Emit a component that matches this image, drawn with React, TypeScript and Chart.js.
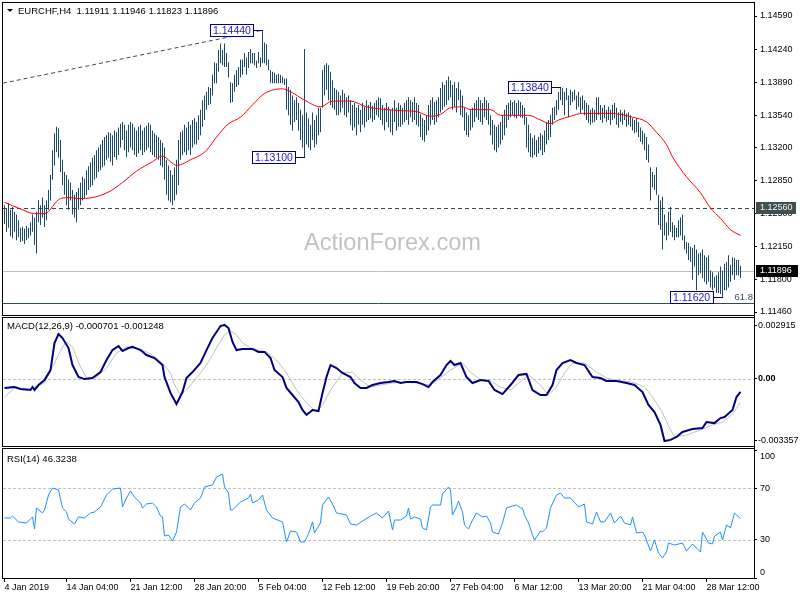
import React, { useEffect, useRef } from "react";
import { Chart, registerables } from "chart.js";

Chart.register(...registerables);

// ---------------- text ----------------
const symbolTitle = "EURCHF,H4  1.11911 1.11946 1.11823 1.11896";
const macdTitle = "MACD(12,26,9) -0.000701 -0.001248";
const rsiTitle = "RSI(14) 46.3238";
const watermark = "ActionForex.com";

// ---------------- H4 bars (high / low) ----------------
const barHigh = [
  1.1259, 1.1256, 1.1261, 1.1254, 1.1257, 1.1252, 1.1249, 1.1243, 1.1235, 1.1236,
  1.1234, 1.1237, 1.1235, 1.1241, 1.1249, 1.1246, 1.1252, 1.1264, 1.1259, 1.1267,
  1.1259, 1.1264, 1.1275, 1.1291, 1.1317, 1.1335, 1.1342, 1.134, 1.1328, 1.1307,
  1.1294, 1.1291, 1.1286, 1.1283, 1.1275, 1.127, 1.1273, 1.1277, 1.1283, 1.1289,
  1.1287, 1.1296, 1.13, 1.1304, 1.1309, 1.1312, 1.1317, 1.132, 1.1323, 1.1328,
  1.1331, 1.1333, 1.1336, 1.1335, 1.1333, 1.1338, 1.1336, 1.1341, 1.1345, 1.1347,
  1.1344, 1.1338, 1.1344, 1.1347, 1.1345, 1.1341, 1.1338, 1.1342, 1.1344, 1.1338,
  1.1341, 1.1343, 1.1346, 1.1344, 1.1338, 1.1335, 1.1333, 1.1331, 1.1328, 1.1325,
  1.132, 1.1307, 1.1301, 1.1296, 1.1291, 1.1299, 1.1307, 1.1328, 1.1336, 1.1338,
  1.1344, 1.1341, 1.1347, 1.1344, 1.1349, 1.1351, 1.1347, 1.1354, 1.136, 1.137,
  1.1375, 1.1379, 1.1384, 1.1383, 1.1397, 1.141, 1.1409, 1.1423, 1.143, 1.1423,
  1.143, 1.142, 1.141, 1.1389, 1.1388, 1.1397, 1.1402, 1.1405, 1.1413, 1.1413,
  1.142, 1.1415, 1.1421, 1.1424, 1.142, 1.142, 1.1412, 1.1421, 1.1415, 1.1444,
  1.1431, 1.1429, 1.1413, 1.1402, 1.14, 1.1399, 1.1397, 1.1398, 1.1397, 1.1395,
  1.1393, 1.1393, 1.1384, 1.1381, 1.1375, 1.137, 1.1373, 1.1367, 1.136, 1.1354,
  1.1424, 1.1357, 1.1351, 1.1344, 1.1357, 1.1349, 1.1354, 1.1362, 1.1362, 1.1402,
  1.1407, 1.1409, 1.1407, 1.14, 1.1391, 1.1383, 1.1381, 1.1379, 1.1375, 1.1381,
  1.1377, 1.1373, 1.1375, 1.137, 1.1365, 1.1367, 1.1362, 1.1365, 1.136, 1.1367,
  1.1363, 1.137, 1.1365, 1.1368, 1.1364, 1.1367, 1.137, 1.1373, 1.1372, 1.1365,
  1.1362, 1.1367, 1.1363, 1.136, 1.1362, 1.137, 1.1362, 1.1367, 1.1365, 1.1362,
  1.1367, 1.137, 1.1373, 1.137, 1.1368, 1.1373, 1.1367, 1.1365, 1.1355, 1.1351,
  1.1349, 1.1354, 1.1365, 1.137, 1.1373, 1.1368, 1.137, 1.1373, 1.1383, 1.1389,
  1.1386, 1.1391, 1.1395, 1.1391, 1.1386, 1.1389, 1.1383, 1.1389, 1.1381, 1.1375,
  1.1362, 1.1357, 1.1354, 1.136, 1.1362, 1.1367, 1.137, 1.1373, 1.137, 1.1367,
  1.1373, 1.137, 1.1367, 1.1354, 1.1349, 1.1344, 1.1342, 1.1344, 1.1347, 1.1354,
  1.136, 1.1365, 1.1367, 1.137, 1.1368, 1.137, 1.1367, 1.137, 1.1368, 1.1365,
  1.1362, 1.1352, 1.1344, 1.1335, 1.133, 1.1333, 1.1328, 1.1331, 1.1335, 1.1333,
  1.1338, 1.1347, 1.1349, 1.1354, 1.1362, 1.1363, 1.137, 1.1379, 1.1384, 1.1383,
  1.1379, 1.1383, 1.1375, 1.1381, 1.1379, 1.1381, 1.1375, 1.1379, 1.1373, 1.1375,
  1.137, 1.1367, 1.1365, 1.136, 1.1362, 1.136, 1.1373, 1.1373, 1.1365, 1.1362,
  1.1365, 1.136, 1.1363, 1.136, 1.1365, 1.1367, 1.1362, 1.1357, 1.136, 1.1357,
  1.136, 1.1356, 1.1357, 1.1354, 1.1351, 1.1349, 1.1351, 1.1347, 1.1341, 1.1338,
  1.1335, 1.1331, 1.1323, 1.1299, 1.1294, 1.1291, 1.1299, 1.127, 1.1264, 1.1268,
  1.1249, 1.1241, 1.1252, 1.1257, 1.1241, 1.1238, 1.1235, 1.1243, 1.1246, 1.1249,
  1.1227, 1.122, 1.1219, 1.1215, 1.1214, 1.1217, 1.1212, 1.1208, 1.1209, 1.1212,
  1.1206, 1.1204, 1.1206, 1.119, 1.1188, 1.1183, 1.1185, 1.1188, 1.1194, 1.119,
  1.1197, 1.1199, 1.1206, 1.1196, 1.1204, 1.1203, 1.1201, 1.1201, 1.1195,
];
const barLow = [
  1.1239, 1.1231, 1.1235, 1.1226, 1.1224, 1.1231, 1.1222, 1.1225, 1.122, 1.1221,
  1.1218, 1.1222, 1.1224, 1.1227, 1.1231, 1.1217, 1.1208, 1.1241, 1.1238, 1.1246,
  1.1236, 1.1243, 1.1254, 1.1264, 1.1286, 1.1301, 1.1315, 1.1309, 1.1294, 1.128,
  1.127, 1.1259, 1.1254, 1.1264, 1.1249, 1.1246, 1.1241, 1.1254, 1.1259, 1.1264,
  1.1266, 1.127, 1.1275, 1.1278, 1.128, 1.1286, 1.1288, 1.1294, 1.1296, 1.1299,
  1.1301, 1.1307, 1.1309, 1.1305, 1.1301, 1.131, 1.1307, 1.1312, 1.132, 1.1328,
  1.1317, 1.131, 1.1315, 1.132, 1.1317, 1.1312, 1.131, 1.1314, 1.1317, 1.1312,
  1.1315, 1.1317, 1.132, 1.1315, 1.1312, 1.131, 1.1309, 1.1307, 1.1301, 1.1299,
  1.1286, 1.127, 1.1264, 1.1262, 1.1259, 1.1264, 1.127, 1.128, 1.1307, 1.1312,
  1.1315, 1.1312, 1.1317, 1.1312, 1.132, 1.1323, 1.1323, 1.1328, 1.1333, 1.1342,
  1.1349, 1.136, 1.1365, 1.1366, 1.1375, 1.1388, 1.1388, 1.14, 1.1409, 1.1407,
  1.1405, 1.1405, 1.1394, 1.1367, 1.1368, 1.1379, 1.1384, 1.1386, 1.1394, 1.1397,
  1.1405, 1.1397, 1.1404, 1.1409, 1.1409, 1.1407, 1.1404, 1.1409, 1.1405, 1.1409,
  1.1409, 1.1407, 1.1402, 1.1388, 1.1388, 1.1388, 1.1388, 1.1388, 1.1388, 1.1388,
  1.1386, 1.136, 1.1354, 1.1344, 1.1338, 1.1347, 1.1349, 1.1338, 1.1328, 1.132,
  1.131, 1.1323, 1.132, 1.1317, 1.1328, 1.132, 1.1323, 1.1333, 1.1336, 1.1362,
  1.1375, 1.1381, 1.137, 1.1365, 1.1362, 1.136, 1.1354, 1.1354, 1.1357, 1.1362,
  1.1354, 1.1352, 1.1357, 1.1344, 1.1338, 1.1341, 1.1333, 1.1344, 1.1336, 1.1344,
  1.1341, 1.1347, 1.1349, 1.1351, 1.1347, 1.1349, 1.1354, 1.1352, 1.1349, 1.1344,
  1.1338, 1.1347, 1.1341, 1.1336, 1.1333, 1.1347, 1.1338, 1.1342, 1.1342, 1.1344,
  1.1347, 1.1349, 1.1344, 1.1352, 1.1347, 1.1349, 1.1344, 1.1342, 1.1331, 1.1328,
  1.1326, 1.1333, 1.1338, 1.1344, 1.1349, 1.1344, 1.1347, 1.1352, 1.1357, 1.136,
  1.1363, 1.1365, 1.137, 1.1373, 1.136, 1.1363, 1.1357, 1.137, 1.1354, 1.1352,
  1.1338, 1.1333, 1.1331, 1.1338, 1.1341, 1.1347, 1.1352, 1.1349, 1.1347, 1.1344,
  1.1352, 1.1349, 1.1344, 1.1333, 1.1323, 1.1317, 1.1315, 1.132, 1.1323, 1.1328,
  1.1333, 1.1341, 1.1349, 1.1352, 1.1354, 1.1352, 1.1351, 1.1354, 1.1352, 1.1351,
  1.1344, 1.132, 1.1315, 1.131, 1.1309, 1.1312, 1.131, 1.1314, 1.1317, 1.1312,
  1.1315, 1.1323, 1.1328, 1.1331, 1.1344, 1.1349, 1.1354, 1.136, 1.137, 1.1365,
  1.1354, 1.137, 1.1352, 1.1365, 1.1368, 1.137, 1.136, 1.1363, 1.1356, 1.136,
  1.1354, 1.1349, 1.1346, 1.1344, 1.1346, 1.1347, 1.1349, 1.1354, 1.1349, 1.1346,
  1.1351, 1.1347, 1.1349, 1.1344, 1.1349, 1.1351, 1.1344, 1.1341, 1.1347, 1.1344,
  1.1349, 1.1342, 1.1344, 1.1342, 1.1338, 1.1335, 1.1336, 1.1331, 1.1326, 1.1323,
  1.1317, 1.1307, 1.1304, 1.1264, 1.1278, 1.1275, 1.127, 1.1238, 1.1233, 1.1212,
  1.1227, 1.1222, 1.1227, 1.1231, 1.1225, 1.1222, 1.1225, 1.1225, 1.1227, 1.1222,
  1.1212, 1.1208, 1.1201, 1.1199, 1.118, 1.1194, 1.1169, 1.1185, 1.1187, 1.1182,
  1.1178, 1.1175, 1.1178, 1.1172, 1.1169, 1.1172, 1.1166, 1.1166, 1.1165, 1.1162,
  1.1169, 1.1169, 1.1172, 1.1178, 1.1185, 1.118, 1.1185, 1.1185, 1.1182,
];

// moving average (red) [bar, price]
const maLine = [
  [0, 1.1262], [8, 1.1255], [15, 1.125], [20, 1.125], [28, 1.1266], [33, 1.1267], [37, 1.1266],
  [44, 1.1267], [53, 1.1274], [59, 1.1283], [66, 1.1295], [74, 1.1305], [79, 1.1311], [83, 1.1305],
  [86, 1.1301], [94, 1.1308], [98, 1.1312], [101, 1.1317], [106, 1.1331], [112, 1.1345], [118, 1.1352],
  [124, 1.1365], [130, 1.1377], [139, 1.1382], [143, 1.1379], [150, 1.137], [158, 1.1363], [164, 1.1369],
  [173, 1.1369], [181, 1.1363], [198, 1.1359], [206, 1.1358], [213, 1.1353], [218, 1.1355], [223, 1.1362],
  [229, 1.1363], [233, 1.136], [243, 1.136], [248, 1.1354], [254, 1.1354], [262, 1.1354], [268, 1.1349],
  [273, 1.1345], [277, 1.1349], [283, 1.1353], [289, 1.1356], [298, 1.1356], [308, 1.1355], [314, 1.1352],
  [321, 1.1347], [326, 1.1336], [331, 1.1323], [334, 1.131], [341, 1.1289], [348, 1.1272], [353, 1.1256],
  [358, 1.1245], [363, 1.1233], [368, 1.1227],
];

// chart objects
const trendLine = [[-0.75, 1.1388], [129, 1.1444]];
const resistanceLevel = 1.1256;
const resistanceText = "1.12560";
const lastClose = 1.11896;
const lastCloseText = "1.11896";
const fibLevel = 1.11555;
const fibText = "61.8";
const markIdx = [129, 150, 278, 359];
const markPrice = [1.1444, 1.131, 1.1384, 1.1162];
const markText = ["1.14440", "1.13100", "1.13840", "1.11620"];
const priceTicks = [1.1459, 1.1424, 1.1389, 1.1354, 1.132, 1.1285, 1.125, 1.1215, 1.118, 1.1146];

// MACD(12,26,9) [bar, value]
const macdLine = [
  [0, -0.00049], [5, -0.00044], [8, -0.00055], [13, -0.0006], [14, -0.00044], [15, -0.0006], [17, -0.00033],
  [20, -0.00006], [23, 0.00048], [25, 0.00194], [27, 0.00243], [29, 0.00221], [32, 0.00167], [34, 0.00075],
  [37, 0.0001], [40, -0.00001], [44, 0.00005], [48, 0.00037], [51, 0.00102], [54, 0.00156], [57, 0.00178],
  [59, 0.00151], [62, 0.00167], [64, 0.00173], [68, 0.00156], [71, 0.00129], [75, 0.00113], [79, 0.00075],
  [80, 0.0001], [83, -0.00076], [86, -0.00136], [89, -0.00071], [91, 0.00005], [94, 0.00037], [98, 0.00086],
  [101, 0.00156], [104, 0.00221], [108, 0.00286], [110, 0.00292], [112, 0.00275], [114, 0.002], [116, 0.00156],
  [119, 0.00162], [124, 0.00162], [127, 0.00146], [130, 0.00146], [133, 0.00113], [135, 0.00048], [139, 0.0001],
  [141, -0.00049], [144, -0.00087], [147, -0.00125], [149, -0.00168], [151, -0.00195], [154, -0.00168],
  [157, -0.00174], [159, -0.00076], [161, 0.0001], [163, 0.00075], [166, 0.00059], [169, 0.00032], [173, 0.0001],
  [175, -0.00022], [178, -0.00049], [181, -0.00049], [184, -0.00033], [188, -0.00022], [192, -0.00017],
  [195, -0.00011], [198, -0.00022], [201, -0.00017], [206, -0.00017], [209, -0.00028], [212, -0.00044],
  [214, -0.00017], [218, 0.00021], [221, 0.00075], [223, 0.00097], [225, 0.00075], [228, 0.00086], [231, 0.0001],
  [234, -0.00022], [238, -0.00006], [242, -0.00011], [245, -0.0006], [249, -0.00082], [253, -0.00033],
  [257, 0.00021], [261, 0.00027], [264, -0.0006], [268, -0.00087], [271, -0.00087], [274, -0.00033],
  [276, 0.00048], [279, 0.00086], [283, 0.00102], [286, 0.00086], [290, 0.00075], [294, 0.0001], [298, 0.00005],
  [301, -0.00011], [306, -0.00011], [311, -0.00022], [315, -0.00033], [319, -0.00071], [322, -0.00141],
  [325, -0.00179], [328, -0.00249], [330, -0.00336], [333, -0.0033], [336, -0.00314], [339, -0.00287],
  [344, -0.00271], [349, -0.00266], [351, -0.00233], [355, -0.00239], [358, -0.00212], [360, -0.00206],
  [364, -0.00168], [366, -0.00098], [368, -0.000701],
];
const signalLine = [
  [0, -0.00098], [5, -0.00049], [13, -0.00055], [20, -0.00022], [25, 0.00086], [29, 0.00173], [31, 0.002],
  [34, 0.00173], [38, 0.00064], [41, 0.00005], [46, 0.0001], [51, 0.00059], [56, 0.0014], [61, 0.00173],
  [68, 0.00162], [74, 0.00129], [79, 0.00086], [83, 0.00032], [85, -0.00033], [88, -0.00087], [91, -0.0006],
  [96, 0.00005], [101, 0.00075], [106, 0.00167], [110, 0.00238], [113, 0.00259], [116, 0.00238], [119, 0.00194],
  [124, 0.00162], [131, 0.00146], [136, 0.00102], [141, 0.00032], [146, -0.0006], [151, -0.0013], [156, -0.00179],
  [159, -0.00141], [164, -0.00044], [169, 0.00032], [174, 0.00037], [178, -0.00006], [183, -0.00044],
  [188, -0.00033], [194, -0.00022], [198, -0.00017], [206, -0.00022], [213, -0.00033], [218, 0.00005],
  [223, 0.00048], [229, 0.00086], [233, 0.00037], [238, -0.00006], [243, -0.00011], [248, -0.00044],
  [253, -0.0006], [259, -0.00006], [262, 0.00021], [268, -0.00033], [272, -0.00087], [276, -0.00044],
  [280, 0.00032], [284, 0.00086], [290, 0.00086], [296, 0.00037], [301, 0.00005], [308, -0.00011],
  [314, -0.00017], [320, -0.00044], [324, -0.00098], [329, -0.00184], [333, -0.00276], [335, -0.00314],
  [341, -0.00304], [348, -0.00276], [354, -0.00249], [359, -0.00233], [364, -0.0019], [368, -0.001248],
];
const macdTicks = [0.002915, 0, -0.003357];
const macdTickText = ["0.002915", "0.00", "-0.003357"];

// RSI(14) [bar, value]
const rsiLine = [
  [0, 46.9], [3, 46.9], [4, 48.4], [7, 43.8], [11, 43.0], [14, 47.7], [15, 38.3], [16, 54.7], [19, 50.8],
  [20, 53.1], [22, 64.8], [24, 70.3], [27, 68.8], [29, 54.7], [31, 51.6], [32, 46.1], [35, 42.2], [37, 47.7],
  [40, 46.9], [43, 50.8], [45, 51.6], [48, 55.5], [51, 64.8], [54, 69.5], [58, 70.3], [59, 55.5], [61, 62.5],
  [63, 68.0], [65, 63.3], [68, 58.6], [69, 54.7], [71, 57.8], [74, 58.6], [76, 55.5], [78, 48.4], [79, 47.7],
  [80, 32.8], [82, 33.6], [84, 28.9], [86, 35.9], [88, 55.5], [90, 57.8], [93, 53.1], [95, 58.6], [98, 62.5],
  [100, 71.1], [104, 72.7], [106, 78.9], [109, 81.3], [110, 71.1], [112, 66.4], [113, 53.1], [114, 53.1],
  [118, 59.4], [122, 62.5], [123, 65.6], [124, 58.6], [127, 60.9], [129, 64.8], [131, 53.1], [134, 46.9],
  [139, 43.8], [141, 28.1], [143, 36.7], [146, 35.9], [148, 28.1], [150, 28.1], [152, 34.4], [154, 43.8],
  [155, 35.2], [158, 43.0], [159, 57.0], [162, 63.3], [164, 57.8], [166, 50.8], [171, 49.2], [173, 42.2],
  [176, 41.4], [179, 44.5], [183, 48.4], [186, 50.8], [189, 46.9], [192, 52.3], [194, 37.5], [195, 45.3],
  [198, 45.3], [201, 48.4], [202, 54.7], [203, 46.1], [205, 47.7], [208, 46.1], [209, 39.1], [211, 37.5],
  [213, 55.5], [214, 57.0], [218, 57.0], [219, 65.6], [222, 71.1], [223, 68.8], [224, 49.2], [226, 55.5],
  [227, 60.2], [229, 51.6], [230, 41.4], [232, 38.3], [234, 45.3], [236, 50.8], [239, 47.7], [241, 48.4],
  [243, 43.0], [244, 35.9], [247, 34.4], [249, 43.0], [251, 54.7], [254, 56.3], [256, 57.0], [258, 54.7],
  [259, 54.7], [260, 49.2], [262, 43.0], [264, 33.6], [265, 29.7], [268, 36.7], [269, 35.9], [271, 39.1],
  [273, 54.7], [276, 64.8], [278, 66.4], [280, 62.5], [283, 62.5], [287, 55.5], [289, 57.0], [290, 57.8],
  [291, 43.8], [294, 42.2], [296, 51.6], [298, 43.8], [300, 43.8], [303, 50.8], [305, 43.0], [308, 48.4],
  [310, 43.0], [313, 41.4], [314, 47.7], [316, 35.2], [319, 35.9], [320, 33.6], [323, 21.1], [325, 29.7],
  [327, 19.5], [329, 15.6], [331, 20.3], [332, 27.3], [335, 25.8], [339, 27.3], [341, 21.1], [344, 26.6],
  [348, 20.3], [349, 35.9], [352, 27.3], [354, 26.6], [355, 32.8], [358, 35.9], [359, 29.7], [361, 41.4],
  [363, 39.1], [365, 50.8], [368, 46.3238],
];
const rsiTicks = [100, 70, 30, 0];
const rsiLevels = [70, 30];

// time axis
const timeTickIdx = [0, 31, 63, 95, 127, 159, 191, 223, 255, 287, 319, 351];
const timeTickText = [
  "4 Jan 2019", "14 Jan 04:00", "21 Jan 12:00", "28 Jan 20:00", "5 Feb 04:00", "12 Feb 12:00",
  "19 Feb 20:00", "27 Feb 04:00", "6 Mar 12:00", "13 Mar 20:00", "21 Mar 04:00", "28 Mar 12:00",
];

// ---------------- styling / layout ----------------
const FONT = "'Liberation Sans', Arial, sans-serif";
const FS = 9.5; // titles
const AS = 9; // axis labels
const BAR_COLOR = "#1b4a66";
const X_MIN = -0.75;
const X_MAX = 374.75;
const PRICE_MAX = 1.147275;
const PRICE_MIN = 1.114284;
const MACD_MAX = 0.003295;
const MACD_MIN = -0.00363;

const pts = (arr: number[][]) => arr.map(([x, y]) => ({ x, y }));

const hiddenX = { type: "linear", min: X_MIN, max: X_MAX, display: false, offset: false, bounds: "data", grid: { offset: false } };

function rightAxis(min: number, max: number, ticks: number[], fmt: (v: number) => string, font?: any, pad = 3) {
  return {
    position: "right",
    min,
    max,
    bounds: "data",
    afterFit(s: any) {
      s.width = 46;
      s.paddingTop = 0;
      s.paddingBottom = 0;
    },
    afterBuildTicks(s: any) {
      s.ticks = ticks.map((v) => ({ value: v }));
    },
    ticks: {
      autoSkip: false,
      padding: pad,
      color: "#000",
      font: font || { family: FONT, size: AS },
      callback: (v: any) => fmt(Number(v)),
    },
    grid: { drawOnChartArea: false, drawTicks: true, tickLength: 3, color: "#000", tickColor: "#000" },
    border: { display: false },
  };
}

function frame(ctx: CanvasRenderingContext2D, top: number, bottom: number, axisBottom: number) {
  ctx.fillStyle = "#000";
  ctx.fillRect(2, top, 753, 1);
  ctx.fillRect(2, top, 1, bottom - top + 1);
  ctx.fillRect(2, bottom, 753, 1);
  ctx.fillRect(754, top, 1, axisBottom - top);
}

const mainOverlay = {
  id: "mainOverlay",
  beforeDatasetsDraw(chart: any) {
    const { ctx, chartArea: a } = chart;
    const y = chart.scales.y;
    ctx.save();
    ctx.font = `23.6px ${FONT}`;
    ctx.fillStyle = "#c2c2c2";
    ctx.textAlign = "left";
    ctx.textBaseline = "alphabetic";
    ctx.fillText(watermark, 304, 250);
    const hline = (v: number, color: string, dash: number[]) => {
      const py = Math.round(y.getPixelForValue(v)) + 0.5;
      ctx.beginPath();
      ctx.setLineDash(dash);
      ctx.strokeStyle = color;
      ctx.lineWidth = 1;
      ctx.moveTo(a.left, py);
      ctx.lineTo(a.right, py);
      ctx.stroke();
    };
    hline(lastClose, "#c0c0c0", []);
    hline(fibLevel, "#2f4f4f", []);
    hline(resistanceLevel, "#2f4f4f", [4, 3]);
    ctx.setLineDash([]);
    ctx.font = `${FS}px ${FONT}`;
    ctx.fillStyle = "#3c4c5c";
    ctx.textAlign = "right";
    ctx.textBaseline = "middle";
    ctx.fillText(fibText, 753, Math.round(y.getPixelForValue(fibLevel)) - 6);
    ctx.restore();
  },
  afterDraw(chart: any) {
    const { ctx } = chart;
    const x = chart.scales.x;
    const y = chart.scales.y;
    ctx.save();
    // title
    ctx.fillStyle = "#000";
    ctx.beginPath();
    ctx.moveTo(7, 9);
    ctx.lineTo(13, 9);
    ctx.lineTo(10, 12);
    ctx.closePath();
    ctx.fill();
    ctx.font = `${FS}px ${FONT}`;
    ctx.textAlign = "left";
    ctx.textBaseline = "middle";
    ctx.fillText(symbolTitle, 18, 11);
    // swing labels
    markIdx.forEach((idx, k) => {
      const px = Math.round(x.getPixelForValue(idx) - 0.5);
      const py = Math.round(y.getPixelForValue(markPrice[k]));
      const bx = px - 9 - 43;
      const by = py - 6;
      ctx.fillStyle = "#fff";
      ctx.fillRect(bx, by, 43, 12);
      ctx.strokeStyle = "#00008b";
      ctx.lineWidth = 1;
      ctx.strokeRect(bx + 0.5, by + 0.5, 43, 12);
      ctx.beginPath();
      ctx.moveTo(bx + 43.5, py + 0.5);
      ctx.lineTo(px + 1, py + 0.5);
      ctx.stroke();
      ctx.fillStyle = "#1a1acd";
      ctx.font = `10.5px ${FONT}`;
      ctx.textAlign = "left";
      ctx.textBaseline = "middle";
      ctx.fillText(markText[k], bx + 3, by + 7);
    });
    // axis price boxes
    const axisBox = (v: number, text: string, bg: string, fg: string, w: number) => {
      const py = Math.round(y.getPixelForValue(v));
      ctx.fillStyle = bg;
      ctx.fillRect(756, py - 6, w, 12);
      ctx.fillStyle = fg;
      ctx.font = `${AS}px ${FONT}`;
      ctx.textAlign = "left";
      ctx.textBaseline = "middle";
      ctx.fillText(text, 760, py);
    };
    axisBox(resistanceLevel, resistanceText, "#3f5050", "#f2f2f2", 40);
    axisBox(lastClose, lastCloseText, "#000", "#fff", 42);
    frame(ctx, 2, 315, 317);
    ctx.restore();
  },
};

function levelPlugin(id: string, levels: number[], title: string, titleY: number, top: number, bottom: number, axisBottom: number, extra?: (ctx: any, chart: any) => void) {
  return {
    id,
    beforeDatasetsDraw(chart: any) {
      const { ctx, chartArea: a } = chart;
      const y = chart.scales.y;
      ctx.save();
      ctx.strokeStyle = "#c0c0c0";
      ctx.lineWidth = 1;
      ctx.setLineDash([3, 2]);
      levels.forEach((v) => {
        const py = Math.round(y.getPixelForValue(v)) + 0.5;
        ctx.beginPath();
        ctx.moveTo(a.left, py);
        ctx.lineTo(a.right, py);
        ctx.stroke();
      });
      ctx.restore();
    },
    afterDraw(chart: any) {
      const { ctx } = chart;
      ctx.save();
      ctx.fillStyle = "#000";
      ctx.font = `${FS}px ${FONT}`;
      ctx.textAlign = "left";
      ctx.textBaseline = "middle";
      ctx.fillText(title, 7, titleY);
      if (extra) extra(ctx, chart);
      frame(ctx, top, bottom, axisBottom);
      ctx.restore();
    },
  };
}

export default function App() {
  const mainRef = useRef<HTMLCanvasElement>(null);
  const macdRef = useRef<HTMLCanvasElement>(null);
  const rsiRef = useRef<HTMLCanvasElement>(null);

  useEffect(() => {
    const charts: Chart[] = [];
    const common = {
      responsive: false,
      animation: false,
      devicePixelRatio: 1,
      events: [],
      plugins: { legend: { display: false }, tooltip: { enabled: false } },
    };

    charts.push(
      new Chart(mainRef.current as HTMLCanvasElement, {
        type: "bar",
        data: {
          datasets: [
            {
              type: "bar",
              data: barHigh.map((h, i) => ({ x: i, y: [barLow[i], h] })),
              backgroundColor: BAR_COLOR,
              borderWidth: 0,
              barThickness: 1,
              inflateAmount: 0,
              order: 2,
            },
            {
              type: "line",
              data: pts(maLine),
              borderColor: "#ff0000",
              borderWidth: 1,
              pointRadius: 0,
              cubicInterpolationMode: "monotone",
              order: 1,
            },
            {
              type: "line",
              data: pts(trendLine),
              borderColor: "#2f4f4f",
              borderWidth: 1,
              borderDash: [4, 3],
              pointRadius: 0,
              order: 3,
            },
          ],
        } as any,
        options: {
          ...common,
          layout: { padding: { left: 3, right: 0, top: 3, bottom: 2 } },
          scales: {
            x: hiddenX,
            y: rightAxis(PRICE_MIN, PRICE_MAX, priceTicks, (v) => v.toFixed(5)),
          },
        } as any,
        plugins: [mainOverlay],
      })
    );

    charts.push(
      new Chart(macdRef.current as HTMLCanvasElement, {
        type: "line",
        data: {
          datasets: [
            { data: pts(macdLine), borderColor: "#000080", borderWidth: 2, pointRadius: 0, order: 1 },
            { data: pts(signalLine), borderColor: "#c0c0c0", borderWidth: 1, pointRadius: 0, order: 2 },
          ],
        } as any,
        options: {
          ...common,
          layout: { padding: { left: 3, right: 0, top: 1, bottom: 2 } },
          scales: {
            x: hiddenX,
            y: rightAxis(
              MACD_MIN,
              MACD_MAX,
              macdTicks,
              (v) => {
                const k = macdTicks.findIndex((t) => Math.abs(t - v) < 1e-9);
                return k >= 0 ? macdTickText[k] : "";
              },
              (c: any) => ({ family: FONT, size: AS, weight: c.tick && c.tick.value === 0 ? "bold" : "normal" }),
              1
            ),
          },
        } as any,
        plugins: [levelPlugin("macdOverlay", [0], macdTitle, 9, 0, 129, 131)],
      })
    );

    charts.push(
      new Chart(rsiRef.current as HTMLCanvasElement, {
        type: "line",
        data: {
          datasets: [{ data: pts(rsiLine), borderColor: "#1e90ff", borderWidth: 1, pointRadius: 0 }],
        } as any,
        options: {
          ...common,
          layout: { padding: { left: 3, right: 0, top: 2, bottom: 0 } },
          scales: {
            x: {
              type: "linear",
              position: "bottom",
              min: X_MIN,
              max: X_MAX,
              offset: false,
              bounds: "data",
              afterFit(s: any) {
                s.height = 22;
                s.paddingLeft = 0;
                s.paddingRight = 0;
              },
              afterBuildTicks(s: any) {
                s.ticks = timeTickIdx.map((v) => ({ value: v }));
              },
              ticks: {
                autoSkip: false,
                maxRotation: 0,
                minRotation: 0,
                align: "start",
                padding: 0,
                color: "#000",
                font: { family: FONT, size: AS },
                callback: (v: any) => {
                  const k = timeTickIdx.indexOf(Number(v));
                  return k >= 0 ? timeTickText[k] : "";
                },
              },
              grid: { drawOnChartArea: false, drawTicks: true, tickLength: 4, color: "#000", tickColor: "#000", offset: false },
              border: { display: false },
            },
            y: rightAxis(0, 100, rsiTicks, (v) => (v === 70 || v === 30 ? String(v) : "")),
          },
        } as any,
        plugins: [
          levelPlugin("rsiOverlay", rsiLevels, rsiTitle, 11, 0, 130, 131, (ctx: any) => {
            ctx.fillStyle = "#000";
            ctx.font = `${AS}px ${FONT}`;
            ctx.fillText("100", 760, 9);
            ctx.fillText("0", 760, 125);
          }),
        ],
      })
    );

    return () => charts.forEach((c) => c.destroy());
  }, []);

  return (
    <div style={{ position: "absolute", left: 0, top: 0, width: 800, height: 600, background: "#fff", overflow: "hidden" }}>
      <canvas ref={mainRef} width={800} height={317} style={{ position: "absolute", left: 0, top: 0, width: 800, height: 317 }} />
      <canvas ref={macdRef} width={800} height={131} style={{ position: "absolute", left: 0, top: 317, width: 800, height: 131 }} />
      <canvas ref={rsiRef} width={800} height={152} style={{ position: "absolute", left: 0, top: 448, width: 800, height: 152 }} />
    </div>
  );
}
